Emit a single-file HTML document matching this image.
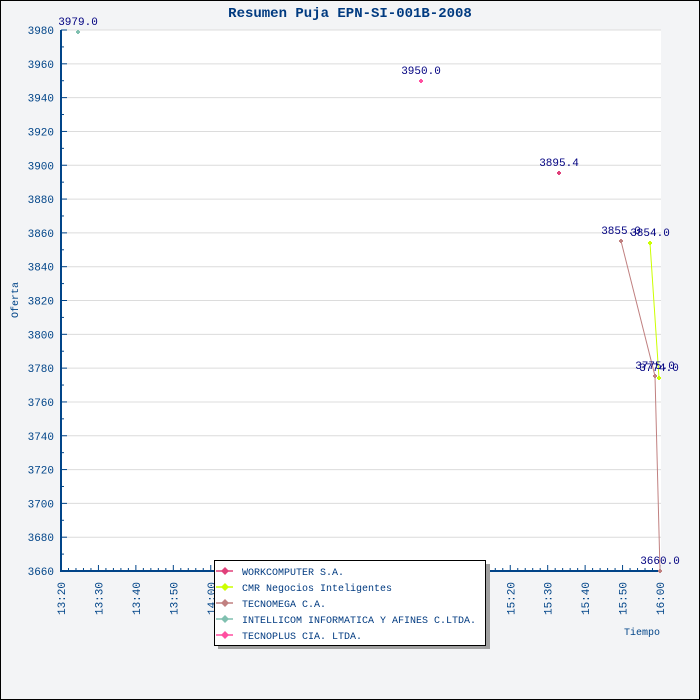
<!DOCTYPE html>
<html><head><meta charset="utf-8"><style>
html,body{margin:0;padding:0;background:#f3f4f6}
svg{display:block}
text{font-family:"Liberation Mono","DejaVu Sans Mono",monospace;font-size:10px}
</style></head><body>
<svg id="s" width="700" height="700" xmlns="http://www.w3.org/2000/svg">
<rect x="0.5" y="0.5" width="699" height="699" fill="#f3f4f6" stroke="#000"/>
<rect x="61" y="30" width="600" height="541" fill="#fff"/>
<g id="g"></g>
<text x="350" y="17" text-anchor="middle" fill="#003a80" style="font-size:14px;font-weight:bold">Resumen Puja EPN-SI-001B-2008</text>
<text transform="translate(18,300) rotate(-90)" text-anchor="middle" fill="#004488">Oferta</text>
<text x="660" y="635" text-anchor="end" fill="#004488">Tiempo</text>
<rect x="218" y="564" width="272" height="85" fill="#a0a0a0"/>
<rect x="214.5" y="560.5" width="271" height="85" fill="#fff" stroke="#000"/>
</svg>
<script>
var g=document.getElementById('g'),NS='http://www.w3.org/2000/svg',h='';
function Y(v){return 30+(3980-v)*541/320}
function X(t){return 61+t*599/160}
for(var v=3660;v<=3980;v+=10){var y=Y(v);
 if(v%20==0){ if(v>3660)h+='<line x1="61" x2="661" y1="'+y+'" y2="'+y+'" stroke="#dcdcdc"/>';
  h+='<line x1="61" x2="67" y1="'+y+'" y2="'+y+'" stroke="#004488"/>';
  h+='<text x="54" y="'+(y+4)+'" text-anchor="end" fill="#004488" style="font-size:11px">'+v+'</text>';}
 else h+='<line x1="61" x2="64" y1="'+y+'" y2="'+y+'" stroke="#004488"/>';}
for(var t=0;t<=160;t+=2){var x=X(t);
 var L=t%10==0?6:3;h+='<line x1="'+x+'" x2="'+x+'" y1="571" y2="'+(571-L)+'" stroke="#004488"/>';
 if(t%10==0){var m=20+t,hh=13+Math.floor(m/60);m=m%60;var s=hh+':'+(m<10?'0':'')+m;
  h+='<text transform="translate('+(x+4)+',582) rotate(-90)" text-anchor="end" fill="#004488" style="font-size:11px">'+s+'</text>';}}
h+='<line x1="61" x2="61" y1="30" y2="572" stroke="#004488" stroke-width="2"/>';
h+='<line x1="60" x2="661" y1="571" y2="571" stroke="#004488" stroke-width="2"/>';
h+='<polyline points="621,241 655,376 660,571" fill="none" stroke="#c08080"/>';
h+='<polyline points="650,243 659,378" fill="none" stroke="#ccff00"/>';
function pt(x,y,c){h+='<path d="M'+(x-2)+' '+y+'h4M'+x+' '+(y-2)+'v4" stroke="'+c+'" stroke-width="2"/>'}
function lab(x,y,s){h+='<text x="'+x+'" y="'+(y-7)+'" text-anchor="middle" fill="#000080" style="font-size:11px">'+s+'</text>'}
pt(78,32,'#80c0b0');lab(78,32,'3979.0');
pt(421,81,'#ff4fa0');lab(421,81,'3950.0');
pt(559,173,'#e0407a');lab(559,173,'3895.4');
pt(621,241,'#c08080');lab(621,241,'3855.0');
pt(650,243,'#ccff00');lab(650,243,'3854.0');
pt(655,376,'#c08080');lab(655,376,'3775.0');
pt(659,378,'#ccff00');lab(659,378,'3774.0');
pt(660,571,'#c08080');lab(660,571,'3660.0');
g.innerHTML=h;
var s=document.getElementById('s'),items=[['WORKCOMPUTER S.A.','#e0407a'],['CMR Negocios Inteligentes','#ccff00'],['TECNOMEGA C.A.','#c08080'],['INTELLICOM INFORMATICA Y AFINES C.LTDA.','#80c0b0'],['TECNOPLUS CIA. LTDA.','#ff4fa0']],o='';
items.forEach(function(it,i){var y=571+i*16;
 o+='<line x1="216" x2="233" y1="'+y+'" y2="'+y+'" stroke="'+it[1]+'" stroke-width="1.5"/>';
 o+='<path d="M'+(225-4)+' '+y+'L225 '+(y-4)+'L'+(229)+' '+y+'L225 '+(y+4)+'Z" fill="'+it[1]+'"/>';
 o+='<text x="242" y="'+(y+4)+'" fill="#003a80" textLength="'+(it[0].length*6)+'">'+it[0]+'</text>';});
var gg=document.createElementNS(NS,'g');gg.innerHTML=o;s.appendChild(gg);
</script>
</body></html>
